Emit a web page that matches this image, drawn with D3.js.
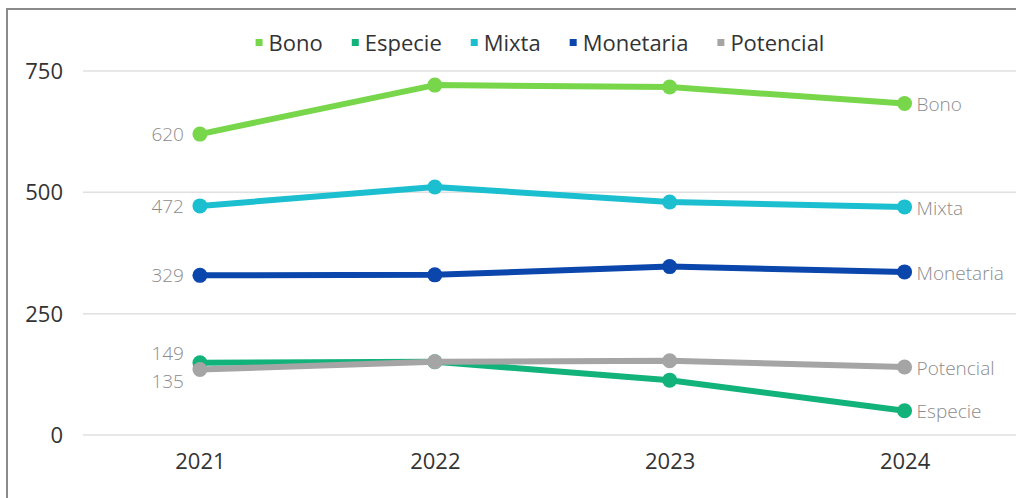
<!DOCTYPE html>
<html>
<head>
<meta charset="utf-8">
<script src="https://cdn.jsdelivr.net/npm/d3@7"></script>
<style>
  html, body { margin: 0; padding: 0; background: #fff; }
  svg { display: block; font-family: "Open Sans", sans-serif; }
</style>
</head>
<body>
<svg id="chart" width="1016" height="498"></svg>
<script>
// Fund types by year
const years = ["2021", "2022", "2023", "2024"];
const seriesNames = ["Bono", "Especie", "Mixta", "Monetaria", "Potencial"];
const bono      = [620, 721, 717, 683];
const especie   = [149, 151, 113, 50];
const mixta     = [472, 511, 480, 470];
const monetaria = [329, 330, 347, 336];
const potencial = [135, 151, 153, 140];
const yTicks = [0, 250, 500, 750];
const colors = ["#78d64b", "#12b27b", "#1bbfcf", "#0a46ab", "#a5a5a5"];
// vertical nudge for the first-year value labels that would otherwise collide
const startLabelShift = [0, -9, 0, 0, 12];

const values = [bono, especie, mixta, monetaria, potencial];
const series = seriesNames.map((name, i) => ({
  name, color: colors[i], shift: startLabelShift[i],
  points: years.map((y, j) => ({ year: y, value: values[i][j] }))
}));

const svg = d3.select("#chart");

// outer frame
svg.append("rect")
  .attr("x", 7).attr("y", 9).attr("width", 1040).attr("height", 520)
  .attr("fill", "none").attr("stroke", "#8a8a8a").attr("stroke-width", 2);

const x = d3.scalePoint().domain(years).range([82.5, 1022]).padding(0.5);
const y = d3.scaleLinear().domain([0, 750]).range([435, 71]);

// horizontal gridlines
svg.append("g").selectAll("line").data(yTicks).join("line")
  .attr("x1", 83).attr("x2", 1022)
  .attr("y1", d => y(d)).attr("y2", d => y(d))
  .attr("stroke", "#e0e0e0").attr("stroke-width", 1.5);

// y axis labels
const yAxis = d3.axisLeft(y).tickValues(yTicks).tickSize(0).tickPadding(0);
svg.append("g").attr("transform", "translate(63,0)").call(yAxis)
  .call(g => g.select(".domain").remove())
  .selectAll("text")
  .attr("font-family", "Open Sans, sans-serif")
  .attr("font-size", 22).attr("fill", "#333").attr("dy", "0.34em");

// x axis labels
const xAxis = d3.axisBottom(x).tickSize(0).tickPadding(0);
svg.append("g").attr("transform", "translate(0,453)").call(xAxis)
  .call(g => g.select(".domain").remove())
  .selectAll("text")
  .attr("font-family", "Open Sans, sans-serif")
  .attr("font-size", 22).attr("fill", "#333").attr("dy", "0.71em");

const line = d3.line().x(d => x(d.year)).y(d => y(d.value));

const g = svg.append("g");
series.forEach(s => {
  g.append("path").datum(s.points)
    .attr("d", line).attr("fill", "none")
    .attr("stroke", s.color).attr("stroke-width", 6)
    .attr("stroke-linejoin", "round").attr("stroke-linecap", "round");
  g.selectAll(null).data(s.points).join("circle")
    .attr("cx", d => x(d.year)).attr("cy", d => y(d.value))
    .attr("r", 7.5).attr("fill", s.color);
});

// value labels at the first year
series.forEach(s => {
  const p = s.points[0];
  svg.append("text")
    .attr("x", x(p.year) - 16).attr("y", y(p.value) + s.shift)
    .attr("dy", "0.35em").attr("text-anchor", "end")
    .attr("font-size", 19).attr("font-weight", 300).attr("fill", "#8c8c8c")
    .text(p.value);
});

// series names at the last year
series.forEach(s => {
  const p = s.points[s.points.length - 1];
  svg.append("text")
    .attr("x", x(p.year) + 12).attr("y", y(p.value) + 1)
    .attr("dy", "0.35em")
    .attr("font-size", 19).attr("font-weight", 300).attr("fill", "#8c8c8c")
    .text(s.name);
});

// legend
const legend = svg.append("g").attr("transform", "translate(0,43)");
let cursor = 0;
const items = series.map(s => {
  const it = legend.append("g");
  it.append("rect").attr("x", 0).attr("y", -4).attr("width", 7).attr("height", 7)
    .attr("fill", s.color);
  const t = it.append("text").attr("x", 13).attr("dy", "0.35em")
    .attr("font-size", 22).attr("fill", "#333").text(s.name);
  const w = 13 + t.node().getComputedTextLength();
  it.attr("transform", `translate(${cursor},0)`);
  cursor += w + 29;
  return it;
});
const total = cursor - 29;
legend.attr("transform", `translate(${540 - total / 2},43)`);
</script>
</body>
</html>
